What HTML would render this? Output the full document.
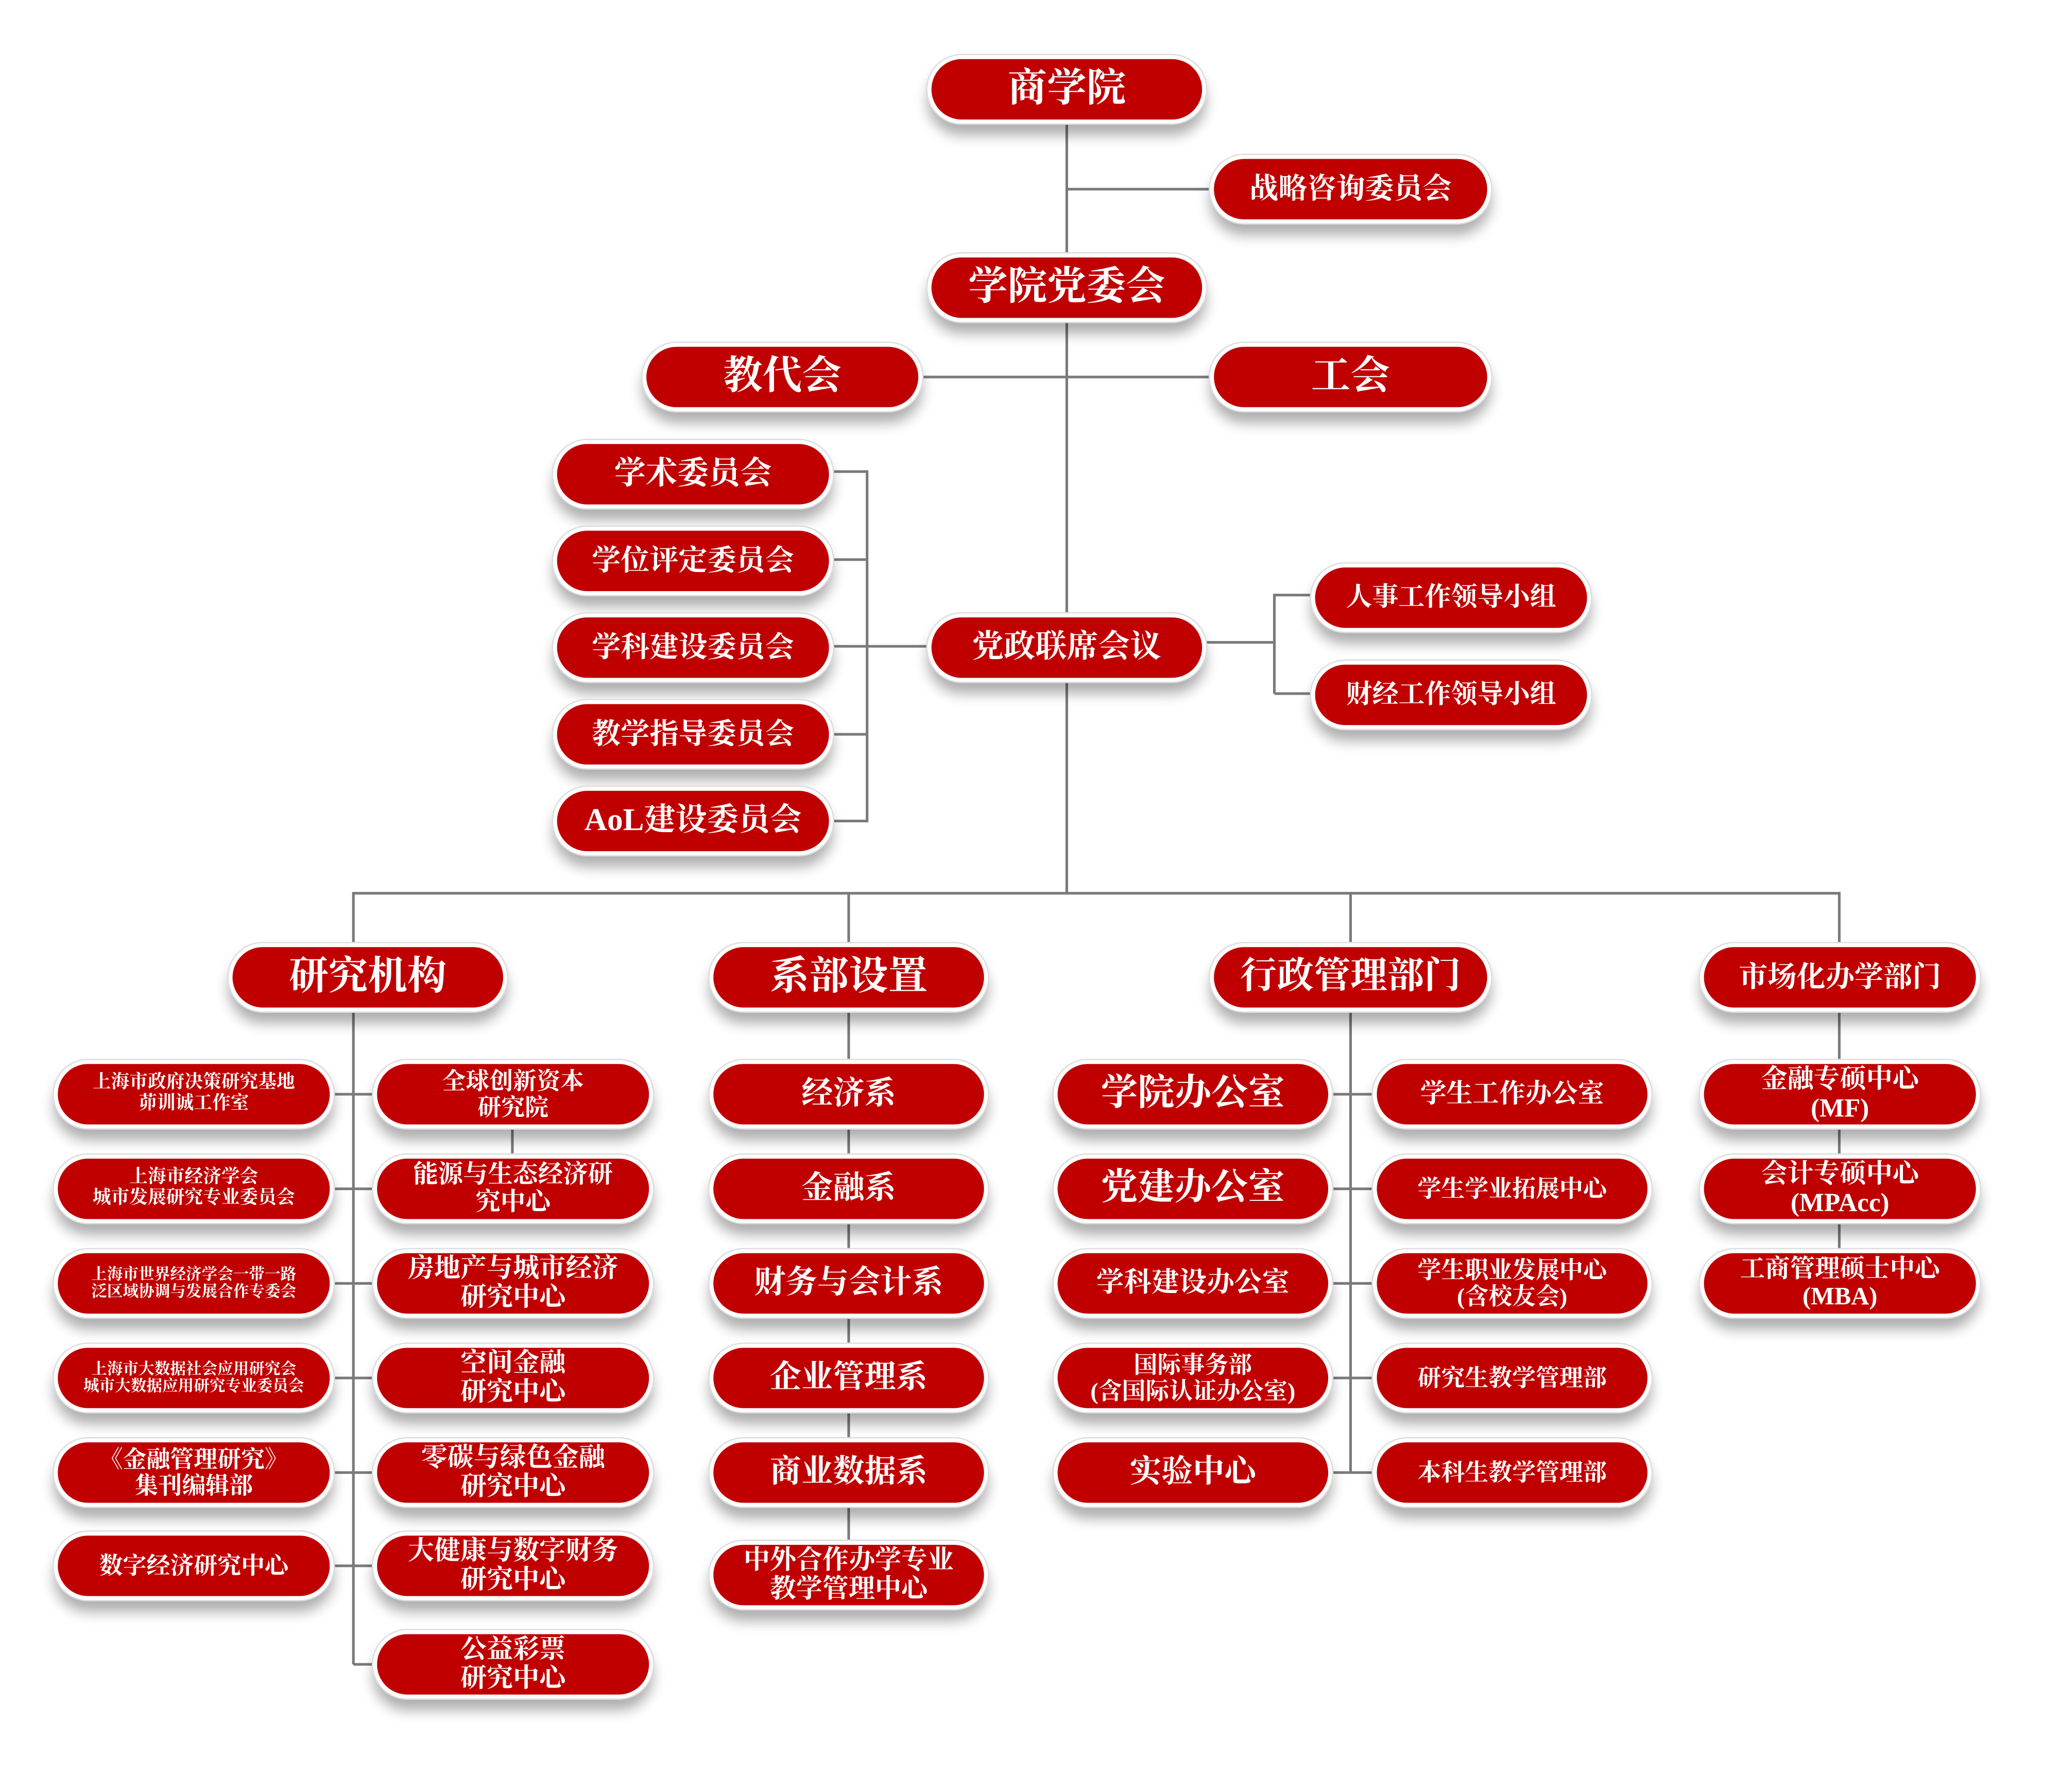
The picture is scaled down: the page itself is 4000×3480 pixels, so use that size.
<!DOCTYPE html>
<html><head><meta charset="utf-8"><style>
html,body{margin:0;padding:0;background:#fff;}
body{width:4000px;height:3480px;overflow:hidden;position:relative;}
#c{position:absolute;left:0;top:0;width:1568px;height:1364px;transform:scale(2.5510);transform-origin:0 0;}
.p{position:absolute;box-sizing:border-box;background:#c00000;border:3px solid #fff;border-radius:27px;box-shadow:0 0 0 1px #ddd,0 9px 10px rgba(0,0,0,.32);color:#fff;display:flex;align-items:center;justify-content:center;text-align:center;font-family:"Liberation Serif","Noto Serif CJK SC",serif;font-weight:bold;line-height:1.12;white-space:nowrap;}
.l{position:absolute;background:#7a7a7a;}
</style></head><body><div id="c">
<!-- connectors -->
<div class="l" style="left:811px;top:94px;width:2px;height:587px"></div>
<div class="l" style="left:812px;top:143px;width:110px;height:2px"></div>
<div class="l" style="left:702px;top:286px;width:220px;height:2px"></div>
<div class="l" style="left:660px;top:491px;width:48px;height:2px"></div>
<div class="l" style="left:659px;top:358px;width:2px;height:268px"></div>
<div class="l" style="left:634px;top:358px;width:26px;height:2px"></div>
<div class="l" style="left:634px;top:425px;width:26px;height:2px"></div>
<div class="l" style="left:634px;top:491px;width:26px;height:2px"></div>
<div class="l" style="left:634px;top:558px;width:26px;height:2px"></div>
<div class="l" style="left:634px;top:624px;width:26px;height:2px"></div>
<div class="l" style="left:918px;top:488px;width:52px;height:2px"></div>
<div class="l" style="left:969px;top:452px;width:2px;height:76px"></div>
<div class="l" style="left:970px;top:452px;width:30px;height:2px"></div>
<div class="l" style="left:970px;top:527px;width:30px;height:2px"></div>
<div class="l" style="left:269px;top:679px;width:1132px;height:2px"></div>
<div class="l" style="left:268px;top:679px;width:2px;height:40px"></div>
<div class="l" style="left:645px;top:679px;width:2px;height:40px"></div>
<div class="l" style="left:1027px;top:679px;width:2px;height:40px"></div>
<div class="l" style="left:1399px;top:679px;width:2px;height:40px"></div>
<div class="l" style="left:268px;top:770px;width:2px;height:497px"></div>
<div class="l" style="left:254px;top:832px;width:30px;height:2px"></div>
<div class="l" style="left:254px;top:904px;width:30px;height:2px"></div>
<div class="l" style="left:254px;top:976px;width:30px;height:2px"></div>
<div class="l" style="left:254px;top:1048px;width:30px;height:2px"></div>
<div class="l" style="left:254px;top:1120px;width:30px;height:2px"></div>
<div class="l" style="left:254px;top:1191px;width:30px;height:2px"></div>
<div class="l" style="left:269px;top:1266px;width:15px;height:2px"></div>
<div class="l" style="left:389px;top:859px;width:2px;height:20px"></div>
<div class="l" style="left:645px;top:770px;width:2px;height:404px"></div>
<div class="l" style="left:1027px;top:770px;width:2px;height:351px"></div>
<div class="l" style="left:1014px;top:832px;width:31px;height:2px"></div>
<div class="l" style="left:1014px;top:904px;width:31px;height:2px"></div>
<div class="l" style="left:1014px;top:976px;width:31px;height:2px"></div>
<div class="l" style="left:1014px;top:1048px;width:31px;height:2px"></div>
<div class="l" style="left:1014px;top:1120px;width:31px;height:2px"></div>
<div class="l" style="left:1399px;top:770px;width:2px;height:182px"></div>

<!-- top -->
<div class="p" style="left:706px;top:42px;width:212px;height:52px;font-size:30px">商学院</div>
<div class="p" style="left:921px;top:118px;width:214px;height:52px;font-size:22px">战略咨询委员会</div>
<div class="p" style="left:706px;top:193px;width:212px;height:52px;font-size:30px">学院党委会</div>
<div class="p" style="left:489px;top:261px;width:213px;height:52px;font-size:30px">教代会</div>
<div class="p" style="left:921px;top:261px;width:214px;height:52px;font-size:30px">工会</div>
<div class="p" style="left:421px;top:335px;width:213px;height:52px;font-size:24px">学术委员会</div>
<div class="p" style="left:421px;top:401px;width:213px;height:52px;font-size:22px">学位评定委员会</div>
<div class="p" style="left:421px;top:467px;width:213px;height:52px;font-size:22px">学科建设委员会</div>
<div class="p" style="left:421px;top:533px;width:213px;height:52px;font-size:22px">教学指导委员会</div>
<div class="p" style="left:421px;top:599px;width:213px;height:52px;font-size:24px">AoL建设委员会</div>
<div class="p" style="left:706px;top:467px;width:212px;height:52px;font-size:24px">党政联席会议</div>
<div class="p" style="left:998px;top:429px;width:213px;height:52px;font-size:20px">人事工作领导小组</div>
<div class="p" style="left:998px;top:503px;width:213px;height:52px;font-size:20px">财经工作领导小组</div>

<!-- categories -->
<div class="p" style="left:174px;top:718px;width:212px;height:52px;font-size:30px">研究机构</div>
<div class="p" style="left:540px;top:718px;width:212px;height:52px;font-size:30px">系部设置</div>
<div class="p" style="left:921px;top:718px;width:214px;height:52px;font-size:28px">行政管理部门</div>
<div class="p" style="left:1294px;top:718px;width:213px;height:52px;font-size:22px">市场化办学部门</div>

<!-- research left -->
<div class="p" style="left:41px;top:807px;width:213px;height:52px;font-size:14px">上海市政府决策研究基地<br>茆训诚工作室</div>
<div class="p" style="left:41px;top:879px;width:213px;height:52px;font-size:14px">上海市经济学会<br>城市发展研究专业委员会</div>
<div class="p" style="left:41px;top:951px;width:213px;height:52px;font-size:12px">上海市世界经济学会一带一路<br>泛区域协调与发展合作专委会</div>
<div class="p" style="left:41px;top:1023px;width:213px;height:52px;font-size:12px">上海市大数据社会应用研究会<br>城市大数据应用研究专业委员会</div>
<div class="p" style="left:41px;top:1095px;width:213px;height:52px;font-size:18px">《金融管理研究》<br>集刊编辑部</div>
<div class="p" style="left:41px;top:1166px;width:213px;height:52px;font-size:18px">数字经济研究中心</div>
<!-- research right -->
<div class="p" style="left:284px;top:807px;width:213px;height:52px;font-size:18px">全球创新资本<br>研究院</div>
<div class="p" style="left:284px;top:879px;width:213px;height:52px;font-size:19px">能源与生态经济研<br>究中心</div>
<div class="p" style="left:284px;top:951px;width:213px;height:52px;font-size:20px">房地产与城市经济<br>研究中心</div>
<div class="p" style="left:284px;top:1023px;width:213px;height:52px;font-size:20px">空间金融<br>研究中心</div>
<div class="p" style="left:284px;top:1095px;width:213px;height:52px;font-size:20px">零碳与绿色金融<br>研究中心</div>
<div class="p" style="left:284px;top:1166px;width:213px;height:52px;font-size:20px">大健康与数字财务<br>研究中心</div>
<div class="p" style="left:284px;top:1241px;width:213px;height:52px;font-size:20px">公益彩票<br>研究中心</div>

<!-- departments -->
<div class="p" style="left:540px;top:807px;width:212px;height:52px;font-size:24px">经济系</div>
<div class="p" style="left:540px;top:879px;width:212px;height:52px;font-size:24px">金融系</div>
<div class="p" style="left:540px;top:951px;width:212px;height:52px;font-size:24px">财务与会计系</div>
<div class="p" style="left:540px;top:1023px;width:212px;height:52px;font-size:24px">企业管理系</div>
<div class="p" style="left:540px;top:1095px;width:212px;height:52px;font-size:24px">商业数据系</div>
<div class="p" style="left:540px;top:1173px;width:212px;height:52px;font-size:20px">中外合作办学专业<br>教学管理中心</div>

<!-- admin left -->
<div class="p" style="left:802px;top:807px;width:212px;height:52px;font-size:28px">学院办公室</div>
<div class="p" style="left:802px;top:879px;width:212px;height:52px;font-size:28px">党建办公室</div>
<div class="p" style="left:802px;top:951px;width:212px;height:52px;font-size:21px">学科建设办公室</div>
<div class="p" style="left:802px;top:1023px;width:212px;height:52px;font-size:18px">国际事务部<br>(含国际认证办公室)</div>
<div class="p" style="left:802px;top:1095px;width:212px;height:52px;font-size:24px">实验中心</div>
<!-- admin right -->
<div class="p" style="left:1045px;top:807px;width:212px;height:52px;font-size:20px">学生工作办公室</div>
<div class="p" style="left:1045px;top:879px;width:212px;height:52px;font-size:18px">学生学业拓展中心</div>
<div class="p" style="left:1045px;top:951px;width:212px;height:52px;font-size:18px">学生职业发展中心<br>(含校友会)</div>
<div class="p" style="left:1045px;top:1023px;width:212px;height:52px;font-size:18px">研究生教学管理部</div>
<div class="p" style="left:1045px;top:1095px;width:212px;height:52px;font-size:18px">本科生教学管理部</div>

<!-- market -->
<div class="p" style="left:1294px;top:807px;width:213px;height:52px;font-size:20px">金融专硕中心<br>(MF)</div>
<div class="p" style="left:1294px;top:879px;width:213px;height:52px;font-size:20px">会计专硕中心<br>(MPAcc)</div>
<div class="p" style="left:1294px;top:951px;width:213px;height:52px;font-size:19px">工商管理硕士中心<br>(MBA)</div>
</div></body></html>
